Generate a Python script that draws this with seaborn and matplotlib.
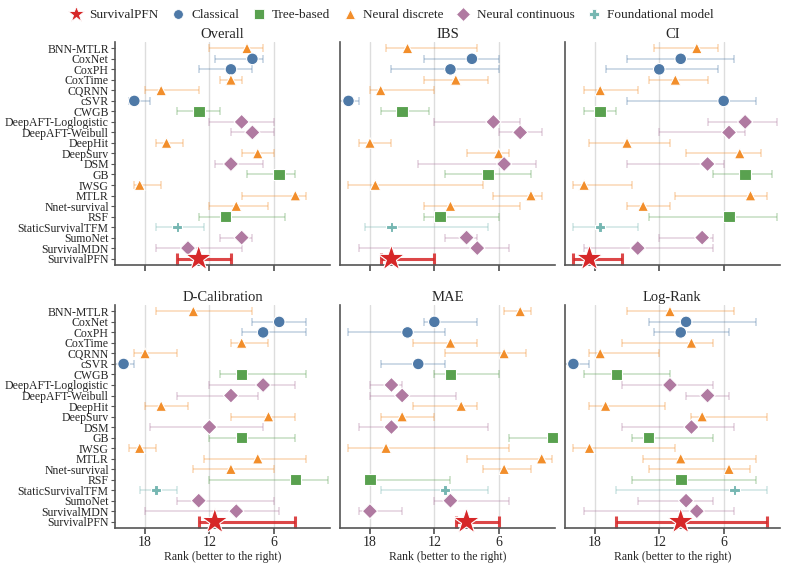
import numpy as np
import pandas as pd
import matplotlib.pyplot as plt
import seaborn as sns
from matplotlib.lines import Line2D

methods = ['BNN-MTLR', 'CoxNet', 'CoxPH', 'CoxTime', 'CQRNN', 'cSVR', 'CWGB',
           'DeepAFT-Loglogistic', 'DeepAFT-Weibull', 'DeepHit', 'DeepSurv', 'DSM',
           'GB', 'IWSG', 'MTLR', 'Nnet-survival', 'RSF', 'StaticSurvivalTFM',
           'SumoNet', 'SurvivalMDN', 'SurvivalPFN']
grupos = ['Neural discrete', 'Classical', 'Classical', 'Neural discrete', 'Neural discrete',
          'Classical', 'Tree-based', 'Neural continuous', 'Neural continuous',
          'Neural discrete', 'Neural discrete', 'Neural continuous', 'Tree-based',
          'Neural discrete', 'Neural discrete', 'Neural discrete', 'Tree-based',
          'Foundational model', 'Neural continuous', 'Neural continuous', 'SurvivalPFN']

metricas = ['Overall', 'IBS', 'CI', 'D-Calibration', 'MAE', 'Log-Rank']

# mediana del rank y extremos del intervalo (peor, mejor)
overall_med = [8.5, 8, 10, 10, 16.5, 19, 13, 9, 8, 16, 7.5, 10, 5.5, 18.5, 4, 9.5, 10.5, 15, 9, 14, 13]
overall_lo = [12, 11.5, 13, 11, 18, 19.5, 15, 12, 10, 17, 9, 11.5, 8.5, 19, 9, 12, 13, 17, 11, 17, 15]
overall_hi = [7, 7, 8, 9, 13, 17.5, 11, 6, 6, 14.5, 6, 7, 4, 16.5, 3, 6.5, 5, 12.5, 8, 9, 10]

ibs_med = [14.5, 8.5, 10.5, 10, 17, 20, 15, 6.5, 4, 18, 6, 5.5, 7, 17.5, 3, 10.5, 11.5, 16, 9, 8, 16]
ibs_lo = [16.5, 13, 16, 13, 18, 21, 17, 12, 6, 19, 9, 13.5, 11, 20, 6.5, 13, 13, 18.5, 11, 19, 17]
ibs_hi = [8, 6, 6, 7, 12, 19, 12.5, 4, 2, 16, 5, 2.5, 3, 7.5, 2, 4, 6, 7, 8, 5, 12]

ci_med = [8.5, 10, 12, 10.5, 17.5, 6, 17.5, 4, 5.5, 15, 4.5, 7.5, 4, 19, 3.5, 13.5, 5.5, 17.5, 8, 14, 18.5]
ci_lo = [12.5, 15, 17, 13, 19, 15, 19, 7.5, 12, 18.5, 9.5, 15, 7, 20, 10.5, 15, 13, 20, 12, 19, 20]
ci_hi = [6.5, 5, 6.5, 7.5, 14, 3, 16, 1, 4, 11, 2.5, 6, 1.5, 14.5, 2, 11, 1, 14, 7, 7, 15.5]

dcal_med = [13.5, 5.5, 7, 9, 18, 20, 9, 7, 10, 16.5, 6.5, 12, 9, 18.5, 7.5, 10, 4, 17, 13, 9.5, 11.5]
dcal_lo = [17, 8, 9, 10, 19, 21, 11, 12, 15, 18, 10, 17.5, 12, 19.5, 12.5, 13.5, 12, 18.5, 15, 18, 13]
dcal_hi = [8, 3, 3, 6.5, 15, 19, 3, 4, 7.5, 14, 4, 7, 4, 17, 3, 6, 1, 15, 6, 5.5, 4]

mae_med = [4, 12, 14.5, 10.5, 5.5, 13.5, 10.5, 16, 15, 9.5, 15, 16, 1, 16.5, 2, 5.5, 18, 11, 10.5, 18, 9]
mae_lo = [5.5, 13, 20, 14, 11, 17, 12, 18, 18, 14, 17, 19, 5, 20, 9, 7.5, 18.5, 17, 12, 19, 10]
mae_hi = [3, 8, 11, 8, 3.5, 11, 6, 15, 10, 8, 12, 7, 1, 5, 1, 3, 10.5, 7, 5, 15, 6]

logrank_med = [11, 9.5, 10, 9, 17.5, 20, 16, 11, 7.5, 17, 8, 9, 13, 18.5, 10, 5.5, 10, 5, 9.5, 8.5, 10]
logrank_lo = [15, 13, 12.5, 15.5, 18.5, 21, 19, 15.5, 9.5, 18.5, 9, 15.5, 14.5, 20, 13.5, 13, 14.5, 16, 14, 19, 16]
logrank_hi = [5, 3, 5.5, 7, 12, 18.5, 11, 7, 5.5, 11.5, 2, 5, 7, 10.5, 3, 3.5, 3, 2, 7, 5, 2]

datos = {
    'Overall': (overall_med, overall_lo, overall_hi),
    'IBS': (ibs_med, ibs_lo, ibs_hi),
    'CI': (ci_med, ci_lo, ci_hi),
    'D-Calibration': (dcal_med, dcal_lo, dcal_hi),
    'MAE': (mae_med, mae_lo, mae_hi),
    'Log-Rank': (logrank_med, logrank_lo, logrank_hi),
}

# Armo la tabla larga
filas = []
for m in metricas:
    med, lo, hi = datos[m]
    for i, meth in enumerate(methods):
        filas.append({'metrica': m, 'metodo': meth, 'grupo': grupos[i], 'pos': i,
                      'med': med[i], 'lo': lo[i], 'hi': hi[i]})
df = pd.DataFrame(filas)

orden_grupos = ['SurvivalPFN', 'Classical', 'Tree-based', 'Neural discrete',
                'Neural continuous', 'Foundational model']
colores = {'SurvivalPFN': '#d62728', 'Classical': '#4e79a7', 'Tree-based': '#59a14f',
           'Neural discrete': '#f28e2b', 'Neural continuous': '#b07aa1',
           'Foundational model': '#76b7b2'}
marcadores = {'SurvivalPFN': '*', 'Classical': 'o', 'Tree-based': 's',
              'Neural discrete': '^', 'Neural continuous': 'D', 'Foundational model': 'P'}
tamanios = {'SurvivalPFN': 400, 'Classical': 70, 'Tree-based': 70,
            'Neural discrete': 60, 'Neural continuous': 60, 'Foundational model': 55}

sns.set_theme(style='ticks')
plt.rcParams['font.family'] = ['Liberation Serif', 'DejaVu Serif']
plt.rcParams['mathtext.fontset'] = 'stix'

fig, axes = plt.subplots(2, 3, figsize=(7.87, 5.66), dpi=100, sharey=True)
fig.subplots_adjust(left=115/787, right=780/787, top=1-42/566, bottom=1-528/566,
                    wspace=0.045, hspace=0.18)

for ax, m in zip(axes.flat, metricas):
    sub = df[df['metrica'] == m]
    for _, r in sub.iterrows():
        c = colores[r['grupo']]
        if r['grupo'] == 'SurvivalPFN':
            ax.errorbar(r['med'], r['pos'], xerr=[[r['med'] - r['hi']], [r['lo'] - r['med']]],
                        fmt='none', ecolor=c, elinewidth=2.2, capsize=4, capthick=2.2,
                        alpha=0.85, zorder=2)
        else:
            ax.errorbar(r['med'], r['pos'], xerr=[[r['med'] - r['hi']], [r['lo'] - r['med']]],
                        fmt='none', ecolor=c, elinewidth=1.1, capsize=3, capthick=1.1,
                        alpha=0.35, zorder=2)
    sns.scatterplot(data=sub, x='med', y='pos', hue='grupo', style='grupo', size='grupo',
                    hue_order=orden_grupos, style_order=orden_grupos, size_order=orden_grupos,
                    palette=colores, markers=marcadores, sizes=tamanios,
                    edgecolor='white', linewidth=0.8, legend=False, ax=ax,
                    zorder=3, clip_on=False)
    ax.set_title(m, fontsize=10.5, pad=3)
    ax.set_xlim(20.8, 0.75)
    ax.set_ylim(20.6, -0.6)
    ax.set_xticks([18, 12, 6])
    ax.xaxis.grid(True, color='#dddddd', linewidth=1.0, zorder=0)
    ax.set_axisbelow(True)
    ax.set_yticks(range(len(methods)))
    ax.set_yticklabels(methods, fontsize=8.5)
    ax.tick_params(axis='y', length=3, width=0.8, pad=1.5, color='#555555')
    ax.tick_params(axis='x', labelsize=10, length=4, pad=2, color='#555555')
    ax.set_ylabel('')
    ax.set_xlabel('')
    for s in ['left', 'bottom']:
        ax.spines[s].set_color('#555555')
        ax.spines[s].set_linewidth(1.2)
    sns.despine(ax=ax)

for ax in axes[0]:
    ax.tick_params(axis='x', labelbottom=False)
for ax in axes[1]:
    ax.set_xlabel('Rank (better to the right)', fontsize=8.5, labelpad=1)
for ax in axes[:, 1:].flat:
    ax.tick_params(axis='y', length=0)

# Leyenda arriba
handles = [Line2D([], [], linestyle='none', marker=marcadores[g], color=colores[g],
                  markeredgecolor='white', markeredgewidth=0.6,
                  markersize=12 if g == 'SurvivalPFN' else 7)
           for g in orden_grupos]
fig.legend(handles, orden_grupos, loc='upper center', bbox_to_anchor=(0.495, 1.005), ncol=6,
           frameon=False, fontsize=9.5, handletextpad=0.2, handlelength=1.6,
           columnspacing=0.7)

plt.savefig('out.png', dpi=100)
